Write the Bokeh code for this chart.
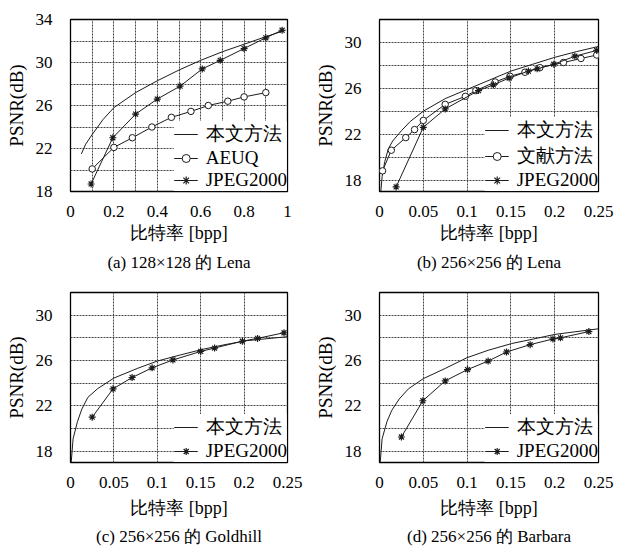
from bokeh.plotting import figure
from bokeh.layouts import column, row
from bokeh.models import FixedTicker, Title, CustomJSTickFormatter
from bokeh.embed import file_html
from bokeh.resources import INLINE

# ---------------- data ----------------
# (a) 128x128 Lena
a_ours_x = [0.05, 0.07, 0.1, 0.15, 0.2, 0.3, 0.4, 0.5, 0.6, 0.7, 0.8, 0.9, 0.99]
a_ours_y = [21.5, 22.4, 23.3, 24.7, 25.8, 27.2, 28.3, 29.3, 30.2, 31.0, 31.7, 32.4, 33.0]
a_aeuq_x = [0.10, 0.20, 0.285, 0.375, 0.465, 0.555, 0.635, 0.725, 0.80, 0.90]
a_aeuq_y = [20.1, 22.1, 23.0, 24.0, 24.9, 25.45, 26.0, 26.4, 26.8, 27.2]
a_jpeg_x = [0.095, 0.195, 0.30, 0.40, 0.505, 0.607, 0.69, 0.80, 0.90, 0.975]
a_jpeg_y = [18.7, 23.0, 25.2, 26.6, 27.8, 29.4, 30.2, 31.3, 32.3, 33.0]

# (b) 256x256 Lena
b_ours_x = [0.0015, 0.003, 0.006, 0.01, 0.015, 0.025, 0.035, 0.05, 0.075, 0.1, 0.125, 0.15, 0.175, 0.2, 0.225, 0.25]
b_ours_y = [17.0, 18.3, 19.6, 20.7, 21.4, 22.3, 23.1, 24.0, 25.1, 25.9, 26.7, 27.5, 28.1, 28.7, 29.2, 29.65]
b_lit_x = [0.0035, 0.0135, 0.030, 0.040, 0.050, 0.075, 0.098, 0.11, 0.132, 0.149, 0.166, 0.183, 0.21, 0.23, 0.248]
b_lit_y = [18.8, 20.6, 21.7, 22.4, 23.2, 24.6, 25.3, 25.8, 26.55, 27.05, 27.4, 27.8, 28.25, 28.6, 28.9]
b_jpeg_x = [0.019, 0.05, 0.075, 0.113, 0.13, 0.148, 0.17, 0.18, 0.199, 0.223, 0.248]
b_jpeg_y = [17.4, 22.6, 24.2, 25.8, 26.3, 26.9, 27.5, 27.7, 28.1, 28.8, 29.3]

# (c) 256x256 Goldhill
c_ours_x = [0.0008, 0.003, 0.008, 0.013, 0.02, 0.031, 0.05, 0.077, 0.1, 0.127, 0.153, 0.178, 0.203, 0.25]
c_ours_y = [17.0, 19.1, 20.6, 21.7, 22.75, 23.5, 24.45, 25.3, 25.95, 26.5, 27.0, 27.4, 27.75, 28.1]
c_jpeg_x = [0.025, 0.049, 0.071, 0.094, 0.118, 0.150, 0.166, 0.198, 0.2155, 0.246]
c_jpeg_y = [21.0, 23.5, 24.5, 25.35, 26.05, 26.8, 27.1, 27.7, 27.95, 28.45]

# (d) 256x256 Barbara
d_ours_x = [0.0008, 0.003, 0.0085, 0.014, 0.0225, 0.033, 0.05, 0.075, 0.1, 0.124, 0.151, 0.176, 0.2, 0.25]
d_ours_y = [17.0, 19.1, 20.6, 21.6, 22.6, 23.5, 24.4, 25.3, 26.25, 26.9, 27.5, 27.9, 28.3, 28.8]
d_jpeg_x = [0.025, 0.0495, 0.075, 0.1005, 0.124, 0.145, 0.172, 0.198, 0.2066, 0.239]
d_jpeg_y = [19.25, 22.45, 24.2, 25.2, 25.95, 26.75, 27.4, 27.9, 28.0, 28.55]

# ticks
a_xticks = [0, 0.2, 0.4, 0.6, 0.8, 1]
a_xgrid = [0.1, 0.2, 0.3, 0.4, 0.5, 0.6, 0.7, 0.8, 0.9]
a_yticks = [18, 22, 26, 30, 34]
a_ygrid = [20, 22, 24, 26, 28, 30, 32]
s_xticks = [0, 0.05, 0.1, 0.15, 0.2, 0.25]
s_xgrid = [0.05, 0.1, 0.15, 0.2]
s_yticks = [18, 22, 26, 30]
s_ygrid = [18, 20, 22, 24, 26, 28, 30]

lbl_ours = "本文方法"
lbl_aeuq = "AEUQ"
lbl_lit = "文献方法"
lbl_jpeg = "JPEG2000"
xlabel = "比特率 [bpp]"
ylabel = "PSNR(dB)"
captions = ["(a) 128×128 的 Lena", "(b) 256×256 的 Lena",
            "(c) 256×256 的 Goldhill", "(d) 256×256 的 Barbara"]

FONT = "Liberation Serif"
INK = "#1c1c1c"
GRID = "#444444"


def panel(width, height, bl, br, bt, bb, xr, yr, xt, xg, yt, yg, caption,
          lab_standoff, cap_standoff):
    p = figure(width=width, height=height, x_range=xr, y_range=yr,
               output_backend="svg", toolbar_location=None, title=None,
               min_border_left=bl, min_border_right=br,
               min_border_top=bt, min_border_bottom=bb)
    p.xaxis.ticker = FixedTicker(ticks=xt)
    p.yaxis.ticker = FixedTicker(ticks=yt)
    p.xgrid.ticker = FixedTicker(ticks=xg)
    p.ygrid.ticker = FixedTicker(ticks=yg)
    p.xaxis.formatter = CustomJSTickFormatter(code="return String(tick);")
    for ax in (p.xaxis[0], p.yaxis[0]):
        ax.major_tick_line_color = None
        ax.minor_tick_line_color = None
        ax.axis_line_color = None
        ax.major_label_text_font = FONT
        ax.major_label_text_font_size = "17px"
        ax.major_label_text_color = "black"
        ax.axis_label_text_font = FONT
        ax.axis_label_text_font_style = "normal"
        ax.axis_label_text_color = "black"
    p.xaxis.axis_label = xlabel
    p.xaxis.axis_label_text_font_size = "18px"
    p.xaxis.major_label_standoff = 8
    p.xaxis.axis_label_standoff = lab_standoff
    p.yaxis.axis_label = ylabel
    p.yaxis.axis_label_text_font_size = "19px"
    p.yaxis.major_label_standoff = 12
    p.yaxis.axis_label_standoff = 6
    for g in (p.xgrid[0], p.ygrid[0]):
        g.grid_line_color = GRID
        g.grid_line_dash = "2 1"
        g.grid_line_width = 1
    p.outline_line_color = "black"
    p.outline_line_width = 1.3
    p.background_fill_color = "white"
    p.border_fill_color = "white"
    p.add_layout(Title(text=caption, align="center", text_font=FONT,
                       text_font_size="17px", text_font_style="normal",
                       text_color="black", standoff=cap_standoff), "below")
    return p


def style_legend(p, row_h, spacing):
    lg = p.legend[0]
    lg.location = "bottom_right"
    lg.margin = 0
    lg.padding = 4
    lg.spacing = spacing
    lg.label_height = row_h
    lg.glyph_height = row_h
    lg.glyph_width = 24
    lg.label_standoff = 8
    lg.border_line_color = None
    lg.background_fill_color = "white"
    lg.background_fill_alpha = 1
    lg.label_text_font = FONT
    lg.label_text_font_size = "19px"
    lg.label_text_color = "black"


def add_ours(p, x, y):
    p.line(x, y, line_color=INK, line_width=1, legend_label=lbl_ours)


def add_circles(p, x, y, label):
    p.line(x, y, line_color=INK, line_width=1, legend_label=label)
    p.scatter(x, y, marker="circle", size=6.5, line_color=INK, fill_color="white",
              line_width=1, legend_label=label)


def add_stars(p, x, y, label):
    p.line(x, y, line_color=INK, line_width=1, legend_label=label)
    p.scatter(x, y, marker="asterisk", size=7, line_color=INK, line_width=1.2,
              legend_label=label)


pa = panel(308, 280, 70, 21, 19, 89, (0, 1), (18, 34), a_xticks, a_xgrid,
           a_yticks, a_ygrid, captions[0], 3, 10)
add_ours(pa, a_ours_x, a_ours_y)
add_circles(pa, a_aeuq_x, a_aeuq_y, lbl_aeuq)
add_stars(pa, a_jpeg_x, a_jpeg_y, lbl_jpeg)
style_legend(pa, 20, -1)

pb = panel(309, 280, 71, 19, 19, 89, (0, 0.25), (17, 32), s_xticks, s_xgrid,
           s_yticks, s_ygrid, captions[1], 3, 10)
add_ours(pb, b_ours_x, b_ours_y)
add_circles(pb, b_lit_x, b_lit_y, lbl_lit)
add_stars(pb, b_jpeg_x, b_jpeg_y, lbl_jpeg)
style_legend(pb, 20, -1)

pc = panel(308, 269, 70, 21, 12, 86, (0, 0.25), (17, 32), s_xticks, s_xgrid,
           s_yticks, s_ygrid, captions[2], 7, 8)
add_ours(pc, c_ours_x, c_ours_y)
add_stars(pc, c_jpeg_x, c_jpeg_y, lbl_jpeg)
style_legend(pc, 18, -3)

pd_ = panel(309, 269, 71, 19, 12, 86, (0, 0.25), (17, 32), s_xticks, s_xgrid,
            s_yticks, s_ygrid, captions[3], 7, 8)
add_ours(pd_, d_ours_x, d_ours_y)
add_stars(pd_, d_jpeg_x, d_jpeg_y, lbl_jpeg)
style_legend(pd_, 18, -3)

layout = column(row(pa, pb), row(pc, pd_))
open("out.html", "w").write(file_html(layout, INLINE))
